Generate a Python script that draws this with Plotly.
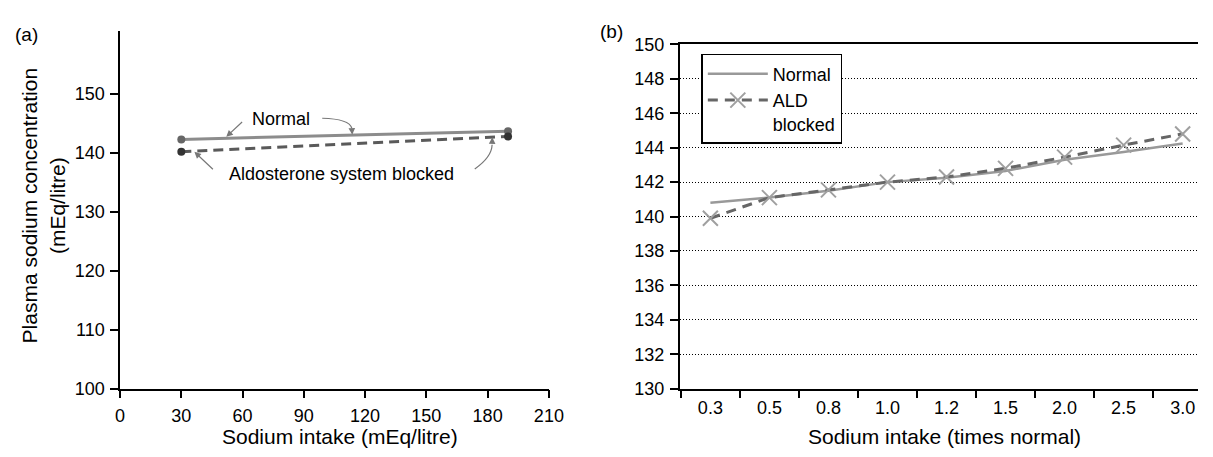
import plotly.graph_objects as go

# ---- data: panel (a)
a_x = [30, 190]
a_normal = [142.3, 143.7]
a_blocked = [140.2, 142.8]
a_xticks = [0, 30, 60, 90, 120, 150, 180, 210]
a_yticks = [100, 110, 120, 130, 140, 150]

# ---- data: panel (b)
b_cats = ["0.3", "0.5", "0.8", "1.0", "1.2", "1.5", "2.0", "2.5", "3.0"]
b_normal = [140.8, 141.1, 141.5, 142.0, 142.25, 142.65, 143.3, 143.75, 144.25]
b_blocked = [139.9, 141.1, 141.55, 142.0, 142.3, 142.8, 143.45, 144.15, 144.8]
b_yticks = [130, 132, 134, 136, 138, 140, 142, 144, 146, 148, 150]

W, H = 1213, 457
FONT = "Liberation Sans, Arial, Helvetica, sans-serif"

def px(x):
    return x / W

def py(y):
    return (H - y) / H

fig = go.Figure()

# panel (a)
fig.add_trace(go.Scatter(x=a_x, y=a_normal, mode="lines+markers", showlegend=False,
                         line=dict(color="#8c8c8c", width=3),
                         marker=dict(color="#666666", size=8), xaxis="x", yaxis="y"))
fig.add_trace(go.Scatter(x=a_x, y=a_blocked, mode="lines+markers", showlegend=False,
                         line=dict(color="#5a5a5a", width=3, dash="10px,6px"),
                         marker=dict(color="#333333", size=8), xaxis="x", yaxis="y"))

# panel (b)
fig.add_trace(go.Scatter(x=b_cats, y=b_normal, mode="lines", name="Normal",
                         line=dict(color="#999999", width=2.5), xaxis="x2", yaxis="y2"))
fig.add_trace(go.Scatter(x=b_cats, y=b_blocked, mode="lines+markers", name="ALD<br>blocked",
                         line=dict(color="#666666", width=3, dash="10px,7px"),
                         marker=dict(symbol="x-thin", size=15, line=dict(color="#a0a0a0", width=2)),
                         xaxis="x2", yaxis="y2"))

axis_common = dict(showline=True, linecolor="black", linewidth=1.5, ticks="outside",
                   ticklen=8, tickwidth=1.5, tickcolor="black", showgrid=False, zeroline=False,
                   ticklabelstandoff=2,
                   tickfont=dict(size=18, color="black", family=FONT))

fig.update_layout(
    width=W, height=H, margin=dict(l=0, r=0, t=0, b=0),
    paper_bgcolor="white", plot_bgcolor="white",
    font=dict(family=FONT, color="black", size=18),
    xaxis=dict(domain=[px(117), px(553)], range=[0, 210], tickvals=a_xticks, anchor="y", **axis_common),
    yaxis=dict(domain=[py(396), py(22)], range=[100, 160.7], tickvals=a_yticks, anchor="x", **axis_common),
    xaxis2=dict(domain=[px(686), 1.0], type="category", range=[-0.52, 8.26], tickson="boundaries",
                categoryorder="array", categoryarray=b_cats, mirror=True, anchor="y2", **axis_common),
    yaxis2=dict(domain=[py(396), py(36)], range=[130, 150], tickvals=b_yticks, anchor="x2",
                **{**axis_common, "showgrid": True}, gridcolor="black", gridwidth=1,
                griddash="1px,2px"),
    legend=dict(x=px(708), y=py(46), xanchor="left", yanchor="top", bgcolor="white",
                bordercolor="black", borderwidth=1.5, font=dict(size=18, family=FONT),
                itemwidth=60, valign="top", tracegroupgap=0),
)

def label(text, x, y, size, **kw):
    return dict(text=text, x=x, y=y, xref="paper", yref="paper", showarrow=False,
                xanchor="center", yanchor="middle", font=dict(size=size), **kw)

ann = [
    label("(a)", px(22), py(26), 19),
    label("(b)", px(617), py(22), 19),
    label("Plasma sodium concentration<br>(mEq/litre)", px(39), py(205), 21, textangle=-90),
    label("Sodium intake (mEq/litre)", px(341), py(446), 21),
    label("Sodium intake (times normal)", px(955), py(446), 21),
    dict(text="Normal", x=78.8, y=145.8, xref="x", yref="y", showarrow=False,
         xanchor="center", yanchor="middle", font=dict(size=18)),
    dict(text="Aldosterone system blocked", x=108.3, y=136.5, xref="x", yref="y",
         showarrow=False, xanchor="center", yanchor="middle", font=dict(size=18)),
]

arrow_style = dict(showarrow=True, arrowhead=2, arrowsize=1.1, arrowwidth=1.2,
                   arrowcolor="#777777", text="", xref="x", yref="y", axref="x", ayref="y")
ann.append(dict(x=52.0, y=142.75, ax=60.5, ay=145.5, **arrow_style))
ann.append(dict(x=36.4, y=140.2, ax=46.2, ay=137.0, **arrow_style))
ann.append(dict(x=113.7, y=143.1, ax=113.5, ay=144.2, **arrow_style))
ann.append(dict(x=182.3, y=142.67, ax=182.2, ay=141.4, **arrow_style))
fig.update_layout(annotations=ann)

# curved arrow bodies
fig.add_shape(type="path", path="M 99.0,145.9 Q 112.2,145.8 113.5,144.2",
              xref="x", yref="y", line=dict(color="#777777", width=1.2))
fig.add_shape(type="path", path="M 173.7,137.3 Q 182.0,139.3 182.2,141.4",
              xref="x", yref="y", line=dict(color="#777777", width=1.2))

fig.write_html("out.html", post_script="document.body.style.margin='0px';")
